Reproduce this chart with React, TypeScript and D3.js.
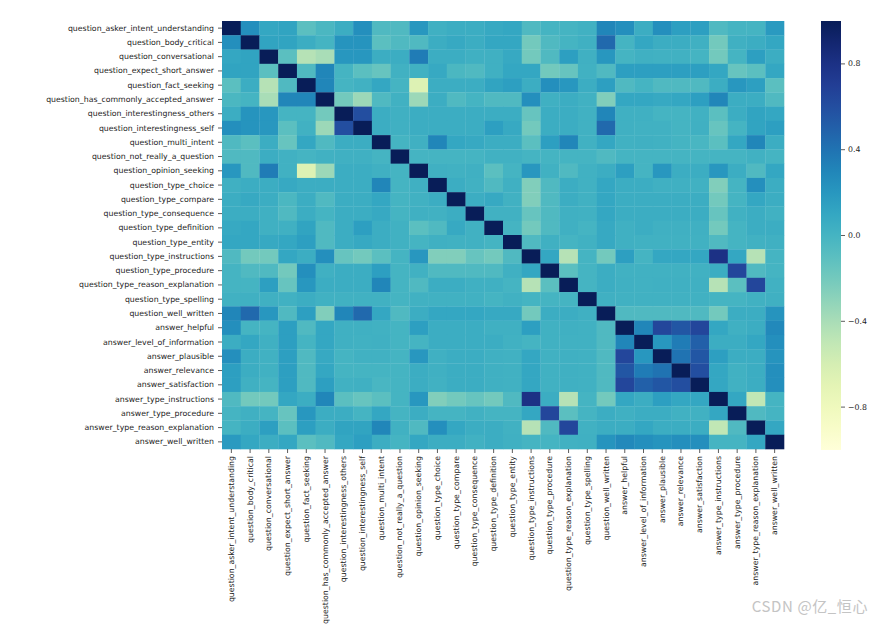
import React from "react";
import * as d3 from "d3";

const labels = [
  "question_asker_intent_understanding",
  "question_body_critical",
  "question_conversational",
  "question_expect_short_answer",
  "question_fact_seeking",
  "question_has_commonly_accepted_answer",
  "question_interestingness_others",
  "question_interestingness_self",
  "question_multi_intent",
  "question_not_really_a_question",
  "question_opinion_seeking",
  "question_type_choice",
  "question_type_compare",
  "question_type_consequence",
  "question_type_definition",
  "question_type_entity",
  "question_type_instructions",
  "question_type_procedure",
  "question_type_reason_explanation",
  "question_type_spelling",
  "question_well_written",
  "answer_helpful",
  "answer_level_of_information",
  "answer_plausible",
  "answer_relevance",
  "answer_satisfaction",
  "answer_type_instructions",
  "answer_type_procedure",
  "answer_type_reason_explanation",
  "answer_well_written",
];

// Lower triangle of the correlation matrix (row i holds columns 0..i-1); diagonal = 1
const lowerRows: number[][] = [
  [],
  [0.25],
  [0.1, 0.12],
  [0.12, 0.12, -0.1],
  [-0.1, 0.05, -0.45, -0.05],
  [-0.03, 0.0, -0.4, 0.3, 0.3],
  [0.05, 0.22, 0.2, 0.0, 0.0, -0.2],
  [0.25, 0.22, 0.2, -0.1, 0.02, -0.35, 0.6],
  [-0.05, -0.1, 0.05, -0.15, 0.1, -0.05, 0.05, 0.05],
  [-0.05, -0.05, 0.05, 0.02, 0.0, 0.02, 0.03, 0.03, 0.0],
  [0.2, -0.05, 0.35, 0.02, -0.65, -0.35, 0.05, 0.05, 0.03, 0.0],
  [0.03, 0.05, 0.05, 0.08, 0.05, 0.05, 0.05, 0.05, 0.3, 0.0, 0.03],
  [0.05, 0.08, 0.05, -0.03, 0.05, -0.05, 0.05, 0.05, 0.1, 0.0, 0.02, 0.05],
  [0.05, 0.05, 0.03, -0.05, 0.05, 0.0, 0.05, 0.05, 0.08, 0.0, 0.03, 0.02, 0.05],
  [0.08, 0.1, 0.03, 0.03, 0.12, -0.05, 0.05, 0.15, 0.05, 0.02, -0.1, -0.05, 0.08, 0.02],
  [0.1, 0.1, 0.08, 0.1, 0.15, -0.05, 0.05, 0.08, 0.05, 0.02, 0.0, 0.03, 0.02, 0.02, 0.0],
  [-0.05, -0.2, -0.2, 0.1, 0.05, 0.25, -0.15, -0.2, -0.1, 0.0, 0.2, -0.25, -0.25, -0.15, -0.2, -0.05],
  [0.0, -0.05, -0.05, -0.2, 0.25, 0.03, 0.05, 0.05, 0.15, 0.0, 0.02, -0.05, -0.05, -0.05, -0.05, 0.03, 0.1],
  [0.0, 0.0, 0.15, -0.15, 0.2, 0.05, 0.05, 0.05, 0.3, 0.0, -0.05, 0.05, 0.05, 0.03, 0.03, 0.0, -0.45, -0.1],
  [0.02, 0.03, 0.03, 0.02, 0.05, 0.02, 0.02, 0.02, 0.02, 0.0, 0.02, 0.02, 0.02, 0.02, 0.0, 0.02, 0.0, 0.0, 0.0],
  [0.3, 0.45, 0.2, -0.05, 0.15, -0.25, 0.3, 0.45, 0.1, -0.05, 0.05, 0.1, 0.1, 0.1, 0.08, 0.08, -0.2, 0.05, 0.05, 0.03],
  [0.25, 0.0, 0.0, 0.15, -0.05, 0.1, 0.03, 0.03, 0.02, 0.0, 0.15, 0.05, 0.05, 0.05, 0.03, 0.03, 0.15, 0.02, 0.03, 0.02, -0.05],
  [0.05, 0.1, 0.03, 0.15, 0.0, 0.1, 0.03, 0.02, 0.03, 0.0, 0.0, 0.05, 0.05, 0.05, 0.05, 0.02, 0.0, 0.02, 0.02, 0.02, -0.05, 0.3],
  [0.25, 0.05, 0.02, 0.15, -0.05, 0.08, 0.0, 0.02, 0.02, 0.0, 0.2, 0.03, 0.05, 0.05, 0.03, 0.02, 0.1, 0.02, 0.03, 0.02, -0.05, 0.65, 0.2],
  [0.15, 0.05, 0.02, 0.15, -0.05, 0.1, 0.0, 0.0, 0.0, 0.0, 0.05, 0.03, 0.05, 0.05, 0.03, 0.02, 0.1, 0.02, 0.03, 0.02, -0.05, 0.55, 0.35, 0.4],
  [0.15, 0.03, 0.0, 0.15, -0.05, 0.15, 0.02, 0.03, -0.02, 0.0, 0.05, 0.02, 0.05, 0.05, 0.03, 0.02, 0.1, 0.02, 0.03, 0.02, -0.05, 0.65, 0.5, 0.55, 0.6],
  [-0.05, -0.2, -0.2, 0.1, 0.05, 0.3, -0.1, -0.15, -0.1, 0.0, 0.2, -0.25, -0.2, -0.15, -0.2, -0.05, 0.8, 0.05, -0.45, 0.0, -0.2, 0.1, 0.05, 0.15, 0.1, 0.1],
  [0.0, 0.03, 0.0, -0.15, 0.2, 0.05, 0.05, 0.0, 0.1, 0.0, 0.05, 0.0, 0.0, 0.02, 0.0, 0.0, 0.1, 0.65, -0.1, 0.0, 0.05, 0.03, 0.05, 0.05, 0.02, 0.02, 0.1],
  [0.0, 0.05, 0.15, -0.1, 0.15, 0.05, 0.12, 0.12, 0.3, 0.02, -0.05, 0.25, 0.1, 0.05, 0.05, 0.02, -0.45, -0.05, 0.65, 0.02, 0.05, 0.05, 0.1, 0.05, 0.05, 0.05, -0.5, -0.05],
  [0.18, 0.1, 0.05, 0.1, -0.1, -0.05, 0.1, 0.15, 0.05, 0.0, 0.1, 0.05, 0.05, 0.02, 0.05, 0.03, 0.0, 0.0, 0.02, 0.03, 0.22, 0.28, 0.25, 0.22, 0.25, 0.25, 0.0, 0.0, 0.1],
];

const colorbarTicks = [0.8, 0.4, 0.0, -0.4, -0.8];
const watermark = "CSDN @亿_恒心";

function corr(i: number, j: number): number {
  if (i === j) return 1;
  return i > j ? lowerRows[i][j] : lowerRows[j][i];
}

export default function App() {
  const W = 884;
  const H = 624;
  const left = 222;
  const right = 784;
  const top = 21;
  const bottom = 449;

  const x = d3.scaleBand<string>().domain(labels).range([left, right]);
  const y = d3.scaleBand<string>().domain(labels).range([top, bottom]);
  const color = d3.scaleSequential(d3.interpolateYlGnBu).domain([-1, 1]);

  const cells: { i: number; j: number; v: number }[] = [];
  labels.forEach((_, i) => labels.forEach((__, j) => cells.push({ i, j, v: corr(i, j) })));

  const cbX = 821;
  const cbW = 20;
  const cbTop = 21;
  const cbBottom = 450;
  const cbScale = d3.scaleLinear().domain([-1, 1]).range([cbBottom, cbTop]);
  const stops = d3.range(0, 1.0001, 0.05);

  const font = "DejaVu Sans, sans-serif";
  const fs = 7.8;
  const fmt = (v: number) => (v < 0 ? "\u2212" : "") + Math.abs(v).toFixed(1);

  return (
    <svg
      width={W}
      height={H}
      style={{ position: "absolute", left: 0, top: 0, background: "#fff" }}
      fontFamily={font}
    >
      <defs>
        <linearGradient id="cbgrad" x1="0" y1="1" x2="0" y2="0">
          {stops.map((t) => (
            <stop key={t} offset={t} stopColor={d3.interpolateYlGnBu(t)} />
          ))}
        </linearGradient>
      </defs>
      {cells.map((c) => (
        <rect
          key={`${c.i}-${c.j}`}
          x={x(labels[c.j])}
          y={y(labels[c.i])}
          width={x.bandwidth() + 0.3}
          height={y.bandwidth() + 0.3}
          fill={color(c.v)}
        />
      ))}
      {/* y axis */}
      {labels.map((l) => {
        const cy = (y(l) as number) + y.bandwidth() / 2;
        return (
          <g key={"y" + l}>
            <line x1={left - 4} x2={left} y1={cy} y2={cy} stroke="#333" strokeWidth={0.8} />
            <text x={left - 8} y={cy} fontSize={fs} textAnchor="end" dominantBaseline="central" fill="#222">
              {l}
            </text>
          </g>
        );
      })}
      {/* x axis */}
      {labels.map((l) => {
        const cx = (x(l) as number) + x.bandwidth() / 2;
        return (
          <g key={"x" + l}>
            <line x1={cx} x2={cx} y1={bottom} y2={bottom + 4} stroke="#333" strokeWidth={0.8} />
            <text
              transform={`translate(${cx},${bottom + 7}) rotate(-90)`}
              fontSize={fs}
              textAnchor="end"
              dominantBaseline="central"
              fill="#222"
            >
              {l}
            </text>
          </g>
        );
      })}
      {/* colorbar */}
      <rect x={cbX} y={cbTop} width={cbW} height={cbBottom - cbTop} fill="url(#cbgrad)" />
      {colorbarTicks.map((t) => {
        const ty = cbScale(t);
        return (
          <g key={"cb" + t}>
            <line x1={cbX + cbW} x2={cbX + cbW + 4} y1={ty} y2={ty} stroke="#333" strokeWidth={0.8} />
            <text x={cbX + cbW + 7} y={ty} fontSize={fs} dominantBaseline="central" fill="#222">
              {fmt(t)}
            </text>
          </g>
        );
      })}
      <text
        x={868}
        y={612}
        fontSize={15}
        letterSpacing={0.6}
        textAnchor="end"
        fill="#c4c4c4"
        fontFamily="Noto Sans CJK SC, DejaVu Sans, sans-serif"
      >
        {watermark}
      </text>
    </svg>
  );
}
